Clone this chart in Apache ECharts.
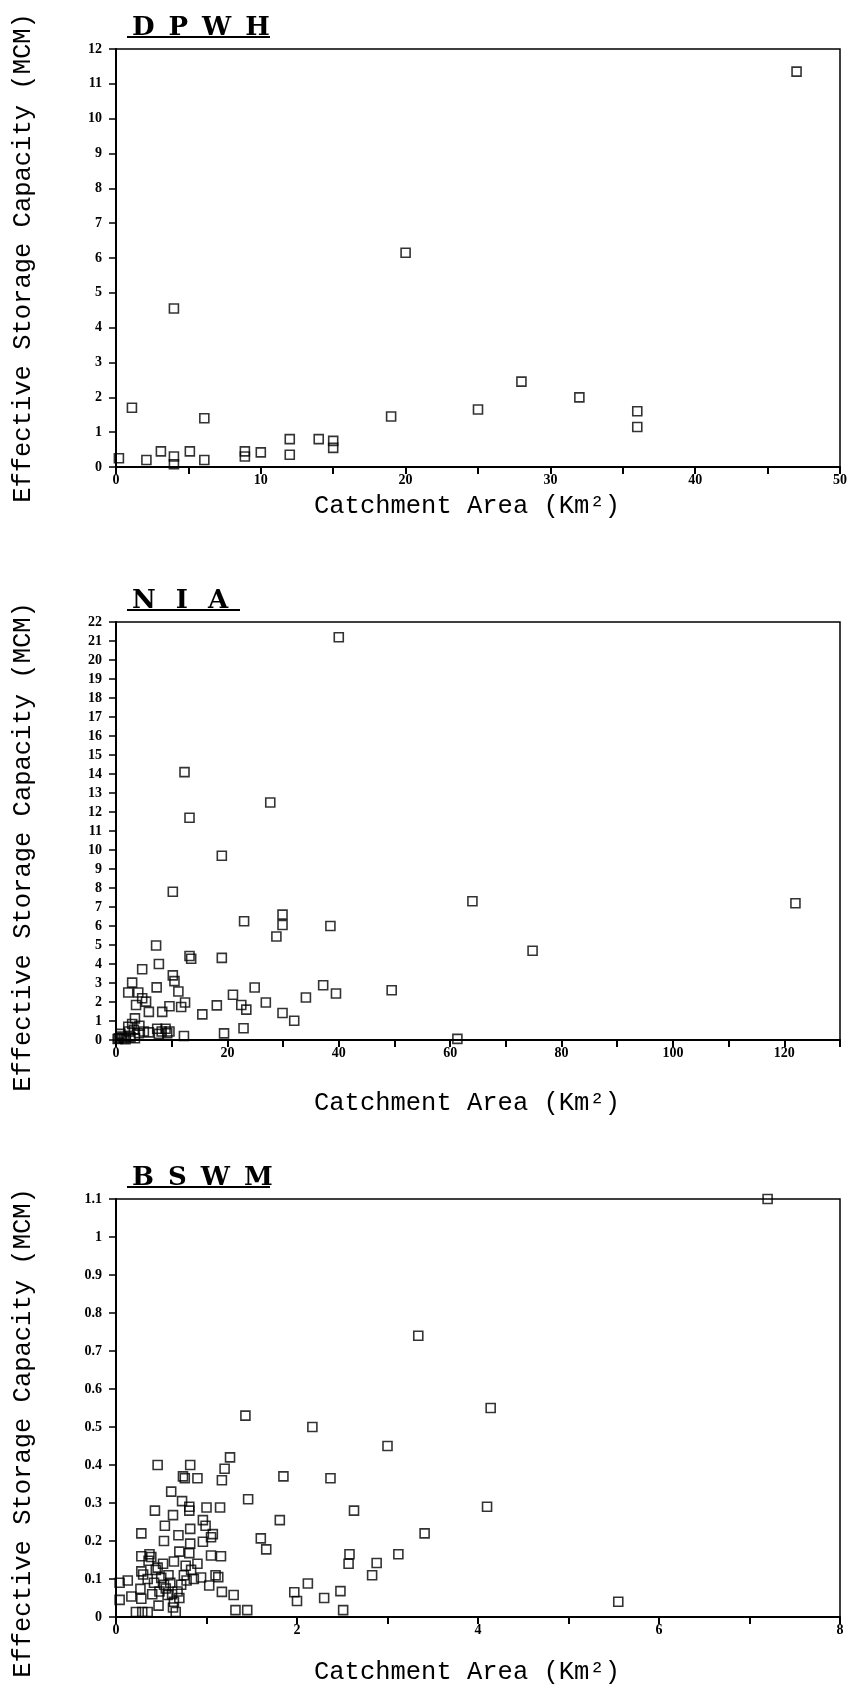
<!DOCTYPE html>
<html><head><meta charset="utf-8">
<script src="https://cdn.jsdelivr.net/npm/echarts@6/dist/echarts.min.js"></script>
<style>html,body{margin:0;padding:0;background:#fff}#c{width:857px;height:1691px}</style>
</head><body><div id="c"></div>
<script>
// ---- text ----
const panelTitles = ['DPWH', 'NIA', 'BSWM'];
const yAxisTitle = 'Effective Storage Capacity (MCM)';
const xAxisTitle = 'Catchment Area (Km²)';

// ---- data: [catchment area km², effective storage MCM] ----
const dpwhPoints = [
  [0.2,0.25],[1.1,1.7],[2.1,0.2],[3.1,0.45],[4.0,0.3],[4.0,0.08],[4.0,4.55],[5.1,0.45],
  [6.1,1.4],[6.1,0.2],[8.9,0.3],[8.9,0.45],[10.0,0.42],[12.0,0.8],[12.0,0.35],[14.0,0.8],
  [15.0,0.75],[15.0,0.55],[19.0,1.45],[20.0,6.15],[25.0,1.65],[28.0,2.45],[32.0,2.0],
  [36.0,1.6],[36.0,1.15],[47.0,11.35]
];
const niaPoints = [
  [40.0,21.2],[12.3,14.1],[27.7,12.5],[13.2,11.7],[19.0,9.7],[10.2,7.8],[64.0,7.3],[122.0,7.2],
  [23.0,6.25],[29.9,6.6],[29.9,6.05],[28.8,5.45],[38.5,6.0],[74.8,4.7],[7.2,4.97],[7.7,4.0],
  [4.7,3.72],[13.2,4.42],[13.5,4.28],[19.0,4.32],[7.3,2.77],[10.2,3.4],[10.5,3.1],[11.2,2.55],
  [2.9,3.02],[2.2,2.5],[4.0,2.5],[4.7,2.2],[5.4,2.02],[3.6,1.84],[5.9,1.48],[3.4,1.14],
  [2.9,0.84],[2.2,0.7],[4.2,0.75],[8.3,1.48],[9.6,1.78],[11.7,1.74],[12.4,1.97],[12.2,0.21],
  [15.5,1.35],[18.1,1.82],[19.4,0.35],[21.0,2.38],[22.5,1.84],[23.4,1.6],[22.9,0.62],[24.9,2.76],
  [26.9,1.97],[29.9,1.42],[32.0,1.01],[34.1,2.24],[37.2,2.88],[39.5,2.45],[49.5,2.62],[61.3,0.06],
  [7.4,0.59],[8.2,0.45],[8.9,0.59],[9.2,0.36],[9.6,0.45],[7.7,0.32],[0.5,0.09],[1.1,0.18],
  [1.7,0.04],[2.6,0.14],[3.4,0.09],[0.8,0.32],[4.1,0.36],[5.0,0.45],[5.9,0.4],[2.3,0.45],
  [3.2,0.54],[0.3,0.05],[1.4,0.1]
];
const bswmPoints = [
  [7.2,1.1],[3.34,0.74],[4.14,0.55],[1.43,0.53],[2.17,0.5],[3.0,0.45],[4.1,0.29],[3.41,0.22],[5.55,0.04],
  [1.26,0.42],[1.2,0.39],[1.17,0.36],[0.46,0.4],[0.82,0.4],[0.74,0.37],[0.76,0.365],[0.9,0.365],
  [1.85,0.37],[2.37,0.365],[1.46,0.31],[0.61,0.33],[0.73,0.305],[0.81,0.29],[0.81,0.28],[1.0,0.288],
  [1.15,0.288],[0.43,0.28],[0.63,0.268],[0.54,0.24],[0.96,0.255],[0.99,0.24],[1.81,0.255],[2.63,0.28],
  [0.28,0.22],[0.82,0.232],[0.69,0.215],[1.07,0.218],[1.05,0.21],[0.53,0.2],[0.82,0.193],[0.96,0.198],
  [1.6,0.207],[1.66,0.178],[2.58,0.165],[3.12,0.165],[2.57,0.14],[2.88,0.142],[2.83,0.11],[0.28,0.16],
  [0.37,0.165],[0.39,0.158],[0.7,0.172],[0.81,0.168],[1.05,0.162],[1.16,0.16],[0.64,0.146],[0.52,0.14],
  [0.9,0.14],[0.28,0.12],[0.44,0.124],[0.83,0.124],[0.77,0.135],[1.1,0.11],[0.46,0.13],[2.12,0.088],
  [1.97,0.065],[2.0,0.042],[2.3,0.05],[2.48,0.068],[2.51,0.018],[1.32,0.018],[1.45,0.018],[1.13,0.105],
  [1.17,0.066],[1.3,0.058],[1.03,0.083],[0.94,0.104],[0.78,0.096],[0.72,0.085],[0.68,0.067],[0.66,0.013],
  [0.64,0.04],[0.57,0.058],[0.53,0.085],[0.48,0.067],[0.5,0.103],[0.36,0.148],[0.3,0.112],[0.27,0.074],
  [0.28,0.048],[0.22,0.013],[0.29,0.013],[0.35,0.013],[0.17,0.054],[0.13,0.096],[0.04,0.09],[0.04,0.045],
  [0.6,0.09],[0.62,0.06],[0.58,0.11],[0.55,0.075],[0.42,0.09],[0.4,0.06],[0.35,0.1],[0.7,0.05],
  [0.75,0.11],[0.86,0.1],[0.63,0.025],[0.47,0.03]
];

// ---- tick labels ----
const dpwhXLabels = [0,10,20,30,40,50];
const niaXLabels = [0,20,40,60,80,100,120];
const bswmXLabels = [0,2,4,6,8];

// ---- layout ----
const panels = [
  {top:49,  height:418, xMax:50,  xInt:5,  yMax:12,  yInt:1,   xLabels:dpwhXLabels, pts:dpwhPoints, titlePad:7,  ul:[127,270], xGap:26, yShift:0},
  {top:622, height:418, xMax:130, xInt:10, yMax:22,  yInt:1,   xLabels:niaXLabels,  pts:niaPoints,  titlePad:10, ul:[127,240], xGap:50, yShift:32},
  {top:1199,height:418, xMax:8,   xInt:1,  yMax:1.1, yInt:0.1, xLabels:bswmXLabels, pts:bswmPoints, titlePad:7,  ul:[127,270], xGap:42, yShift:50}
];

const tickFont = {fontFamily:'Liberation Serif', fontWeight:'bold', fontSize:14, color:'#000'};
const nameFont = {fontFamily:'Liberation Mono', fontSize:25.5, color:'#000'};

const option = {animation:false, backgroundColor:'#fff', title:[], grid:[], xAxis:[], yAxis:[], series:[], graphic:[]};

panels.forEach((p, i) => {
  const letters = panelTitles[i].split('').map(ch => '{l|' + ch + '}').join('');
  option.title.push({
    text: letters, left: p.ul[0] - p.titlePad, top: p.top - 41,
    textStyle: {rich: {l: {fontFamily:'DejaVu Serif', fontSize:26, color:'#000', padding:[0,p.titlePad,0,p.titlePad], lineHeight:30}}}
  });
  option.graphic.push({type:'line', shape:{x1:p.ul[0], y1:p.top - 12, x2:p.ul[1], y2:p.top - 12}, style:{stroke:'#000', lineWidth:2}});
  option.grid.push({left:116, right:17, top:p.top, height:p.height, show:true, borderColor:'#000', borderWidth:1.5, backgroundColor:'#fff'});
  option.xAxis.push({
    type:'value', gridIndex:i, min:0, max:p.xMax, interval:p.xInt,
    axisLine:{show:true, onZero:false, lineStyle:{color:'#000', width:2}},
    axisTick:{show:true, length:7, lineStyle:{color:'#000', width:2}},
    splitLine:{show:false},
    axisLabel:Object.assign({margin:6, formatter: v => p.xLabels.some(t => Math.abs(t - v) < 1e-6) ? String(Math.round(v)) : ''}, tickFont),
    name:xAxisTitle, nameLocation:'middle', nameGap:p.xGap,
    nameTextStyle:Object.assign({padding:[0,22,0,0]}, nameFont)
  });
  option.yAxis.push({
    type:'value', gridIndex:i, min:0, max:p.yMax, interval:p.yInt,
    axisLine:{show:true, onZero:false, lineStyle:{color:'#000', width:2}},
    axisTick:{show:true, length:7, lineStyle:{color:'#000', width:1.5}},
    splitLine:{show:false},
    axisLabel:Object.assign({margin:14, formatter: v => String(+(+v).toFixed(1))}, tickFont),
    name:yAxisTitle, nameLocation:'middle', nameGap:80, nameRotate:90,
    nameTextStyle:Object.assign({padding:[0,p.yShift,0,0]}, nameFont)
  });
  option.series.push({
    type:'scatter', xAxisIndex:i, yAxisIndex:i, data:p.pts,
    symbol:'rect', symbolSize:[9,9],
    itemStyle:{color:'rgba(255,255,255,0)', borderColor:'#000', borderWidth:1.6},
    clip:false
  });
});

const chart = echarts.init(document.getElementById('c'), null, {renderer:'canvas'});
chart.setOption(option);
</script>
</body></html>
